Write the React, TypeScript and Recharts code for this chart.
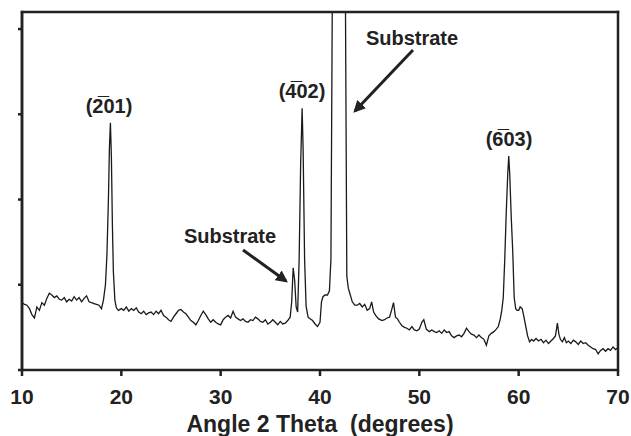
import { LineChart, Line, XAxis, YAxis } from 'recharts'

// 2-theta positions (degrees) and intensity (arb. counts)
const angles = [
  10.0, 10.25, 10.5, 10.75, 11.0, 11.25, 11.5, 11.75, 12.0, 12.25, 12.5, 12.75, 13.0, 13.25, 13.5, 13.75,
  14.0, 14.25, 14.5, 14.75, 15.0, 15.25, 15.5, 15.75, 16.0, 16.25, 16.5, 16.75, 17.0, 17.25, 17.5, 17.75,
  18.0, 18.2, 18.4, 18.55, 18.7, 18.8, 18.9, 19.0, 19.1, 19.2, 19.35, 19.5, 19.7,
  20.0, 20.25, 20.5, 20.75, 21.0, 21.25, 21.5, 21.75, 22.0, 22.25, 22.5, 22.75, 23.0, 23.25, 23.5, 23.75,
  24.0, 24.25, 24.5, 24.75, 25.0, 25.25, 25.5, 25.75, 26.0, 26.25, 26.5, 26.75, 27.0, 27.25, 27.5, 27.75,
  28.0, 28.25, 28.5, 28.75, 29.0, 29.25, 29.5, 29.75, 30.0, 30.25, 30.5, 30.75, 31.0, 31.25, 31.5, 31.75,
  32.0, 32.25, 32.5, 32.75, 33.0, 33.25, 33.5, 33.75, 34.0, 34.25, 34.5, 34.75, 35.0, 35.25, 35.5, 35.75,
  36.0, 36.25, 36.5, 36.75, 37.0, 37.15, 37.3, 37.45, 37.6, 37.75, 37.9, 38.05, 38.2, 38.3, 38.45, 38.6,
  38.8, 39.0, 39.25, 39.5, 39.75, 40.0, 40.15, 40.3, 40.5, 40.75, 40.95, 41.1, 41.25, 41.4, 41.9, 42.4,
  42.55, 42.7, 42.85, 43.0, 43.25, 43.5, 43.75, 44.0, 44.25, 44.5, 44.75, 45.0, 45.2, 45.4, 45.6, 45.9,
  46.25, 46.5, 46.75, 47.0, 47.2, 47.4, 47.6, 47.8, 48.0, 48.25, 48.5, 48.75, 49.0, 49.25, 49.5, 49.75,
  50.0, 50.25, 50.45, 50.7, 51.0, 51.25, 51.5, 51.75, 52.0, 52.25, 52.5, 52.75, 53.0, 53.25, 53.5, 53.75,
  54.0, 54.25, 54.5, 54.75, 55.0, 55.25, 55.5, 55.75, 56.0, 56.25, 56.5, 56.75, 57.0, 57.25, 57.5, 57.75,
  57.95, 58.15, 58.3, 58.45, 58.6, 58.75, 58.9, 59.0, 59.1, 59.25, 59.4, 59.55, 59.7, 59.85, 60.0, 60.15,
  60.35, 60.5, 60.7, 60.9, 61.1, 61.3, 61.5, 61.75, 62.0, 62.25, 62.5, 62.75, 63.0, 63.25, 63.5, 63.7,
  63.9, 64.05, 64.2, 64.4, 64.6, 64.8, 65.0, 65.25, 65.5, 65.75, 66.0, 66.25, 66.5, 66.75, 67.0, 67.25,
  67.5, 67.75, 68.0, 68.25, 68.5, 68.75, 69.0, 69.25, 69.5, 69.75, 70.0,
]

const counts = [
  790, 770, 760, 720, 650, 610, 740, 700, 790, 760, 840, 900, 880, 850, 870, 830,
  820, 850, 800, 830, 810, 860, 820, 850, 800, 840, 870, 800, 790, 780, 770, 760,
  720, 820, 1000, 1350, 2000, 2600, 2900, 2500, 1700, 1150, 820, 730, 700,
  720, 700, 740, 690, 720, 700, 730, 680, 660, 690, 650, 670, 680, 650, 690, 660,
  700, 640, 620, 590, 570, 620, 660, 700, 710, 680, 660, 620, 580, 560, 530, 580,
  640, 690, 650, 600, 560, 590, 560, 540, 530, 590, 620, 640, 610, 690, 620, 600,
  580, 600, 570, 560, 590, 580, 620, 600, 570, 560, 590, 540, 560, 590, 560, 530,
  570, 540, 550, 580, 620, 800, 1200, 1050, 740, 680, 1300, 2400, 3070, 2600, 1300, 750,
  620, 600, 580, 540, 510, 560, 800, 860, 880, 880, 930, 1300, 4600, 12000, 40000, 12000,
  4600, 1100, 960, 900, 800, 760, 760, 780, 740, 770, 700, 720, 800, 680, 640, 600,
  580, 590, 610, 620, 700, 790, 620, 600, 560, 520, 500, 490, 470, 510, 470, 460,
  480, 560, 590, 480, 450, 470, 450, 440, 460, 430, 470, 440, 450, 400, 380, 400,
  410, 390, 430, 490, 450, 420, 410, 380, 410, 380, 360, 290, 400, 430, 450, 480,
  510, 600, 700, 850, 1300, 1850, 2300, 2510, 2300, 1800, 1400, 850, 720, 700, 700, 740,
  720, 640, 520, 400, 330, 360, 340, 370, 340, 360, 320, 350, 310, 340, 370, 400,
  550, 420, 360, 330, 380, 320, 340, 310, 350, 330, 300, 340, 310, 320, 290, 270,
  250, 240, 190, 230, 250, 220, 250, 230, 270, 240, 260,
]

const xTicks = [10, 20, 30, 40, 50, 60, 70]
const yTicks = [0, 1000, 2000, 3000, 4000]

const data = angles.map((a, i) => ({ angle: a, counts: counts[i] }))

const INK = '#222'
const FONT = '"Liberation Sans", Arial, sans-serif'

export default function App() {
  const labelStyle = { fontFamily: FONT, fontWeight: 700, fontSize: 20, fill: INK }
  return (
    <div style={{ position: 'absolute', left: 0, top: 0, width: 631, height: 436, background: '#fff' }}>
      <LineChart width={631} height={436} data={data} margin={{ top: 12, right: 13, bottom: 0, left: 0 }}>
        <XAxis
          dataKey="angle"
          type="number"
          domain={[10, 70]}
          ticks={xTicks}
          height={66}
          stroke={INK}
          strokeWidth={2.5}
          tickSize={6}
          tickMargin={13}
          tick={{ fill: INK, fontFamily: FONT, fontWeight: 700, fontSize: 21 }}
          label={{
            value: 'Angle 2 Theta\u00a0 (degrees)',
            position: 'insideBottom',
            offset: 4,
            style: { fill: INK, fontFamily: FONT, fontWeight: 700, fontSize: 23 },
          }}
        />
        <YAxis
          type="number"
          domain={[0, 4200]}
          ticks={yTicks}
          allowDataOverflow
          width={22}
          stroke={INK}
          strokeWidth={2.5}
          tickSize={4}
          tickFormatter={() => ''}
        />
        <Line
          dataKey="counts"
          type="linear"
          stroke="#1a1a1a"
          strokeWidth={1.3}
          dot={false}
          isAnimationActive={false}
        />
      </LineChart>
      <svg width={631} height={436} style={{ position: 'absolute', left: 0, top: 0, pointerEvents: 'none' }}>
        <defs>
          <marker id="head" markerWidth="4" markerHeight="4" refX="3.2" refY="2" orient="auto" markerUnits="strokeWidth">
            <path d="M0,0 L4,2 L0,4 Z" fill={INK} />
          </marker>
        </defs>
        {/* plot frame */}
        <rect x={20.75} y={10.75} width={2.5} height={360.5} fill={INK} />
        <rect x={20.75} y={10.75} width={598.5} height={2.5} fill={INK} />
        <rect x={616.75} y={10.75} width={2.5} height={360.5} fill={INK} />
        <text x={109} y={113} textAnchor="middle" style={labelStyle}>(2̅01)</text>
        <text x={302} y={98} textAnchor="middle" style={labelStyle}>(4̅02)</text>
        <text x={509} y={146} textAnchor="middle" style={labelStyle}>(6̅03)</text>
        <text x={412} y={45} textAnchor="middle" style={labelStyle}>Substrate</text>
        <text x={230} y={243} textAnchor="middle" style={labelStyle}>Substrate</text>
        <line x1={413} y1={50} x2={355} y2={111} stroke={INK} strokeWidth={3} markerEnd="url(#head)" />
        <line x1={243} y1={250} x2={286} y2={281} stroke={INK} strokeWidth={3} markerEnd="url(#head)" />
      </svg>
    </div>
  )
}
